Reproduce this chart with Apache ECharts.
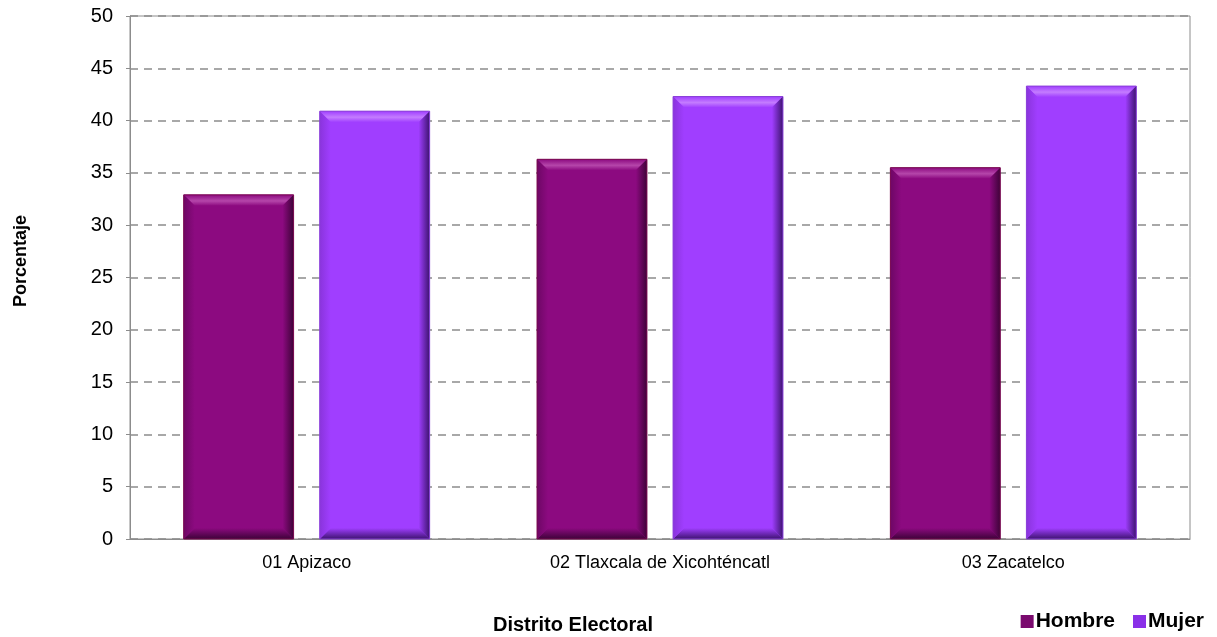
<!DOCTYPE html>
<html><head><meta charset="utf-8">
<script src="https://cdn.jsdelivr.net/npm/echarts@6/dist/echarts.min.js"></script>
<style>html,body{margin:0;padding:0;background:#fff}#c{width:1217px;height:637px}</style>
</head><body><div id="c"></div>
<script>
const categories = ['01 Apizaco', '02 Tlaxcala de Xicohténcatl', '03 Zacatelco'];
const hombre = [32.9, 36.3, 35.5];
const mujer = [40.9, 42.3, 43.3];
const yTicks = {min: 0, max: 50, interval: 5};

const FONT = '"Liberation Sans", Arial, sans-serif';
function bevel(offset, pal) {
  return function (params, api) {
    const ci = api.value(0), v = api.value(1);
    const top = api.coord([ci, v]), base = api.coord([ci, 0]);
    const band = api.size([1, 0])[0];
    const w = band * 0.311;
    const cx = top[0] + offset * band;
    const x0 = cx - w / 2, x1 = cx + w / 2, y0 = top[1], y1 = base[1];
    const b = 11;
    return {
      type: 'group',
      children: [
        {type: 'rect', shape: {x: x0, y: y0, width: w, height: y1 - y0}, style: {fill: pal.main}},
        {type: 'polygon', shape: {points: [[x0, y0], [x1, y0], [x1 - b, y0 + b], [x0 + b, y0 + b]]},
          style: {fill: {type: 'linear', x: 0, y: 0, x2: 0, y2: 1, colorStops: [{offset: 0, color: pal.main}, {offset: 0.55, color: pal.light}, {offset: 1, color: pal.main}]}}},
        {type: 'polygon', shape: {points: [[x1, y0], [x1, y1], [x1 - b, y1 - b], [x1 - b, y0 + b]]},
          style: {fill: {type: 'linear', x: 0, y: 0, x2: 1, y2: 0, colorStops: [{offset: 0, color: pal.main}, {offset: 1, color: pal.dark}]}}},
        {type: 'polygon', shape: {points: [[x0, y1], [x1, y1], [x1 - b, y1 - b], [x0 + b, y1 - b]]},
          style: {fill: {type: 'linear', x: 0, y: 0, x2: 0, y2: 1, colorStops: [{offset: 0, color: pal.main}, {offset: 1, color: pal.dark}]}}},
        {type: 'polygon', shape: {points: [[x0, y0], [x0 + b, y0 + b], [x0 + b, y1 - b], [x0, y1]]},
          style: {fill: {type: 'linear', x: 0, y: 0, x2: 1, y2: 0, colorStops: [{offset: 0, color: pal.left}, {offset: 1, color: pal.main}]}}},
        {type: 'rect', shape: {x: x0, y: y0, width: w, height: y1 - y0}, style: {fill: 'none', stroke: pal.edge, lineWidth: 1}}
      ]
    };
  };
}
const palH = {main: '#8C0A80', light: '#B546AA', dark: '#3E0338', left: '#6E0765', edge: '#7A0A50'};
const palM = {main: '#A03EFF', light: '#C47CFF', dark: '#3E1470', left: '#8A34DC', edge: '#8A40D8'};

const chart = echarts.init(document.getElementById('c'), null, {renderer: 'canvas'});
chart.setOption({
  animation: false,
  backgroundColor: '#fff',
  textStyle: {fontFamily: FONT},
  grid: {left: 130, right: 27, top: 16, bottom: 98, show: true, borderColor: '#8c8c8c', borderWidth: 1,
    containLabel: false, outerBoundsMode: 'none'},
  legend: {
    right: 8, bottom: 0, itemWidth: 13, itemHeight: 13, itemGap: 18,
    textStyle: {fontSize: 21, fontWeight: 'bold', color: '#000', fontFamily: FONT, padding: [0, 0, 0, -3]},
    data: [{name: 'Hombre', icon: 'rect'}, {name: 'Mujer', icon: 'rect'}]
  },
  graphic: [{
    type: 'text', x: 573, y: 625,
    style: {text: 'Distrito Electoral', fontSize: 20, fontWeight: 'bold', fill: '#000', fontFamily: FONT, align: 'center', verticalAlign: 'middle'}
  }, {
    type: 'text', x: 21, y: 261, rotation: Math.PI / 2,
    style: {text: 'Porcentaje', fontSize: 18, fontWeight: 'bold', fill: '#000', fontFamily: FONT, align: 'center', verticalAlign: 'middle'}
  }],
  xAxis: {
    type: 'category', data: categories,
    axisLine: {lineStyle: {color: '#8c8c8c'}},
    axisTick: {show: false},
    axisLabel: {fontSize: 18, color: '#000', margin: 15, fontFamily: FONT}
  },
  yAxis: {
    type: 'value', min: yTicks.min, max: yTicks.max, interval: yTicks.interval,
    axisLine: {show: true, lineStyle: {color: '#8c8c8c'}},
    axisTick: {show: true, length: 4, lineStyle: {color: '#8c8c8c'}},
    axisLabel: {fontSize: 20, color: '#000', margin: 17, fontFamily: FONT},
    splitLine: {lineStyle: {color: '#8c8c8c', type: [8, 6], width: 1.5}}
  },
  series: [
    {name: 'Hombre', type: 'custom', renderItem: bevel(-0.1925, palH), itemStyle: {color: '#7A0A6E'},
      encode: {x: 0, y: 1}, data: hombre.map((v, i) => [i, v])},
    {name: 'Mujer', type: 'custom', renderItem: bevel(0.1925, palM), itemStyle: {color: '#8A30E8'},
      encode: {x: 0, y: 1}, data: mujer.map((v, i) => [i, v])}
  ]
});
</script></body></html>
